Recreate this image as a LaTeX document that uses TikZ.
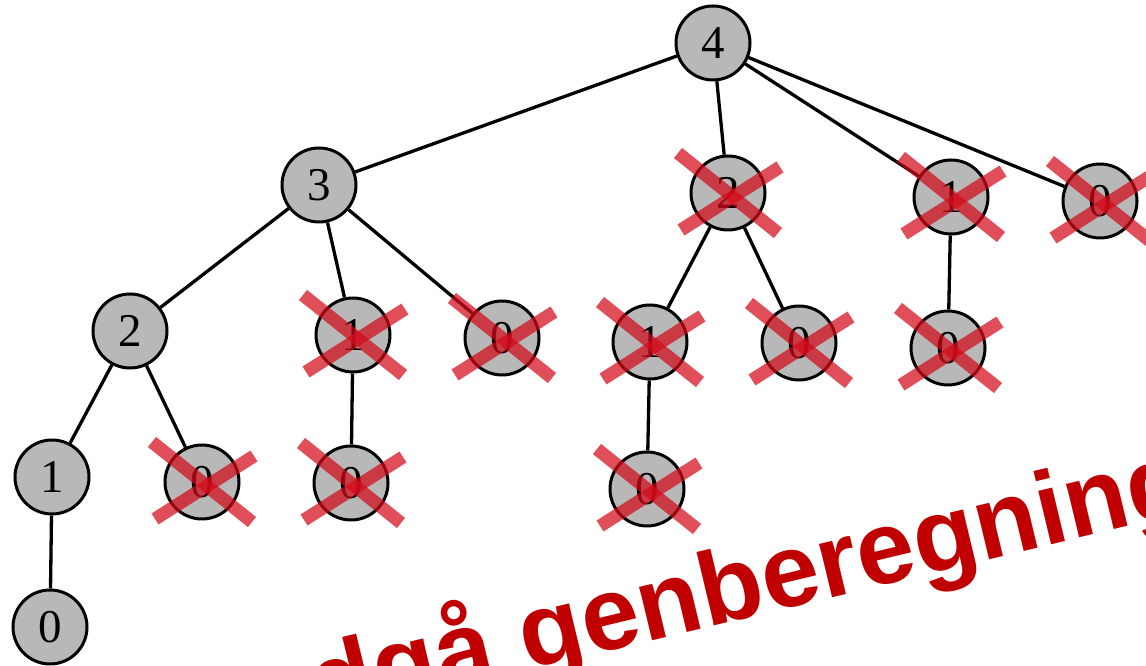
\documentclass[tikz,border=0pt]{standalone}
\usepackage{fontspec}
\setmainfont{Liberation Serif}
\newfontfamily\bannerfont{Liberation Sans}
\definecolor{bannerred}{RGB}{192,0,0}
\definecolor{crossred}{RGB}{210,10,25}
\tikzset{
  tn/.style={circle, draw=black, line width=3pt, fill=black!28,
    minimum size=74pt, inner sep=0pt, font=\fontsize{47}{47}\selectfont},
  edgeline/.style={line width=3.3pt, draw=black},
  xline/.style={line width=13pt, draw=crossred, draw opacity=0.72},
  bannertext/.style={text=bannerred, font=\bannerfont\bfseries\fontsize{104}{104}\selectfont}
}
\begin{document}
\begin{tikzpicture}[x=1pt,y=1pt]
\useasboundingbox (0,0) rectangle (1146,666);
\clip (0,0) rectangle (1146,666);
% nodes
\node[tn] (n4)  at (713,623) {4};
\node[tn] (n3)  at (319,481) {3};
\node[tn] (n2a) at (728,473) {2};
\node[tn] (n1a) at (951,469) {1};
\node[tn] (n0a) at (1100,465) {0};
\node[tn] (n2b) at (130,335) {2};
\node[tn] (n1b) at (353,331) {1};
\node[tn] (n0b) at (502,328) {0};
\node[tn] (n1c) at (650,324) {1};
\node[tn] (n0c) at (799,323) {0};
\node[tn] (n0d) at (948,318) {0};
\node[tn] (n1d) at (52,189) {1};
\node[tn] (n0e) at (202,184) {0};
\node[tn] (n0f) at (351,183) {0};
\node[tn] (n0g) at (647,177) {0};
\node[tn] (n0h) at (50,39) {0};
% edges
\foreach \a/\b in {n4/n3, n4/n2a, n4/n1a, n4/n0a, n3/n2b, n3/n1b, n3/n0b,
  n2a/n1c, n2a/n0c, n1a/n0d, n2b/n1d, n2b/n0e, n1b/n0f, n1c/n0g, n1d/n0h}
  \draw[edgeline] (\a) -- (\b);
% crosses
\foreach \n in {n2a, n1a, n0a, n1b, n0b, n1c, n0c, n0d, n0e, n0f, n0g}{
  \draw[xline, shift={(\n)}] (-50,40) -- (50,-40);
  \draw[xline, shift={(\n)}] (-47,-37) -- (52,26);
}
% banner
\node[bannertext, rotate=13.5, anchor=base west, inner sep=0pt] (msg) at (185,-87) {Undgå genberegning};
\end{tikzpicture}
\end{document}
